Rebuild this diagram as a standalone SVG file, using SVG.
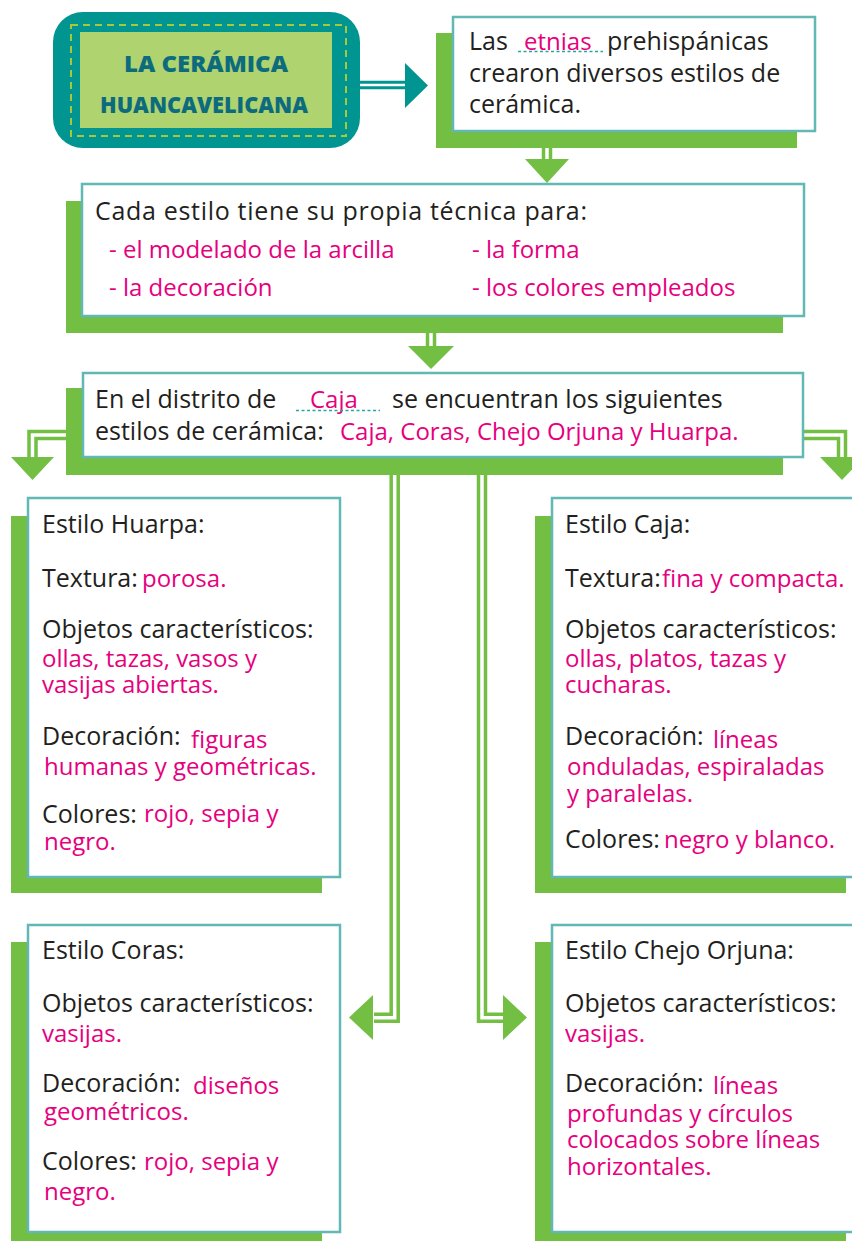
<svg xmlns="http://www.w3.org/2000/svg" width="852" height="1241" viewBox="0 0 852 1241">
<style>
.shadow{fill:#72bf44}
.box{fill:#fff;stroke:#62b8b5;stroke-width:2.5}
.t{font-family:"Open Sans","Liberation Sans",sans-serif;font-size:25px;fill:#231f20}
.p{font-family:"Open Sans","Liberation Sans",sans-serif;font-size:24px;fill:#e6007e}
.title{font-family:"Open Sans","Liberation Sans",sans-serif;font-size:23px;font-weight:800;fill:#0d6b7e}
.gOuter{fill:none;stroke:#72bf44;stroke-width:10.5}
.gInner{fill:none;stroke:#fff;stroke-width:3.5}
.tri{fill:#72bf44}
.dash{fill:none;stroke:#2aa6a0;stroke-width:1.3;stroke-dasharray:3 2.5}
</style>
<rect width="852" height="1241" fill="#fff"/>

<g id="connectors">
  <path d="M360,85 H406" fill="none" stroke="#009590" stroke-width="8.5"/>
  <path d="M360,85 H406" fill="none" stroke="#fff" stroke-width="2.5"/>
  <polygon points="405,63 405,108 428,85.5" fill="#009590"/>

  <path class="gOuter" d="M547,146 V160"/>
  <path class="gInner" d="M547,146 V160"/>
  <polygon class="tri" points="525,159 569,159 547,183"/>

  <path class="gOuter" d="M431,331 V347"/>
  <path class="gInner" d="M431,331 V347"/>
  <polygon class="tri" points="408,346 454,346 431,369"/>

  <path class="gOuter" d="M68,435 H32.5 V458" stroke-width="9"/>
  <path class="gInner" d="M68,435 H32.5 V458"/>
  <polygon class="tri" points="11,457 54,457 32.5,480"/>

  <path class="gOuter" d="M801,435 H842 V458" stroke-width="9"/>
  <path class="gInner" d="M801,435 H842 V458"/>
  <polygon class="tri" points="820,457 864,457 842,480"/>

  <path class="gOuter" d="M394.7,473 V1017.7 H374"/>
  <path class="gInner" d="M394.7,473 V1017.7 H374"/>
  <polygon class="tri" points="373,995 373,1040 349,1017.5"/>

  <path class="gOuter" d="M482,473 V1017.7 H503"/>
  <path class="gInner" d="M482,473 V1017.7 H503"/>
  <polygon class="tri" points="503,995 503,1040 527,1017.5"/>
</g>

<g id="title">
  <rect x="53" y="12" width="307" height="136" rx="30" fill="#009590"/>
  <rect x="80" y="32" width="252" height="96" fill="#afd36e"/>
  <rect x="71" y="25" width="275" height="111" fill="none" stroke="#a8c83c" stroke-width="2" stroke-dasharray="7 5"/>
  <text class="title" x="206" y="72" text-anchor="middle" textLength="164" lengthAdjust="spacingAndGlyphs">LA CERÁMICA</text>
  <text class="title" x="204" y="113" text-anchor="middle" textLength="208" lengthAdjust="spacingAndGlyphs">HUANCAVELICANA</text>
</g>

<g id="box1">
  <rect class="shadow" x="436" y="33" width="361" height="115"/>
  <rect class="box" x="453" y="17" width="362" height="114"/>
  <text class="t" x="469" y="50">Las</text>
  <text class="p" x="524" y="50">etnias</text>
  <path class="dash" d="M518,51.5 H603"/>
  <text class="t" x="607" y="50">prehispánicas</text>
  <text class="t" x="469" y="82">crearon diversos estilos de</text>
  <text class="t" x="469" y="113">cerámica.</text>
</g>

<g id="box2">
  <rect class="shadow" x="66" y="201" width="717" height="132"/>
  <rect class="box" x="82" y="184" width="722" height="132"/>
  <text class="t" x="95" y="220" textLength="492">Cada estilo tiene su propia técnica para:</text>
  <text class="p" x="109" y="258">- el modelado de la arcilla</text>
  <text class="p" x="109" y="296">- la decoración</text>
  <text class="p" x="472" y="258">- la forma</text>
  <text class="p" x="472" y="296">- los colores empleados</text>
</g>

<g id="box3">
  <rect class="shadow" x="66" y="388" width="717" height="87"/>
  <rect class="box" x="83" y="373" width="720" height="84"/>
  <text class="t" x="95" y="408">En el distrito de</text>
  <text class="p" x="310" y="408">Caja</text>
  <path class="dash" d="M296,410.5 H380"/>
  <text class="t" x="392" y="408">se encuentran los siguientes</text>
  <text class="t" x="95" y="440">estilos de cerámica:</text>
  <text class="p" x="340" y="440">Caja, Coras, Chejo Orjuna y Huarpa.</text>
</g>

<g id="huarpa">
  <rect class="shadow" x="11" y="516" width="311" height="377"/>
  <rect class="box" x="28" y="498" width="312" height="379"/>
  <text class="t" x="42" y="533">Estilo Huarpa:</text>
  <text class="t" x="42" y="587">Textura:</text>
  <text class="p" x="142" y="587">porosa.</text>
  <text class="t" x="42" y="638">Objetos característicos:</text>
  <text class="p" x="42" y="667">ollas, tazas, vasos y</text>
  <text class="p" x="42" y="693">vasijas abiertas.</text>
  <text class="t" x="42" y="745">Decoración:</text>
  <text class="p" x="191" y="748">figuras</text>
  <text class="p" x="44" y="775">humanas y geométricas.</text>
  <text class="t" x="42" y="823">Colores:</text>
  <text class="p" x="144" y="822">rojo, sepia y</text>
  <text class="p" x="44" y="850">negro.</text>
</g>

<g id="caja">
  <rect class="shadow" x="535" y="516" width="311" height="377"/>
  <rect class="box" x="552" y="498" width="312" height="379"/>
  <text class="t" x="565" y="533">Estilo Caja:</text>
  <text class="t" x="565" y="587">Textura:</text>
  <text class="p" x="662" y="587">fina y compacta.</text>
  <text class="t" x="565" y="638">Objetos característicos:</text>
  <text class="p" x="565" y="667">ollas, platos, tazas y</text>
  <text class="p" x="565" y="693">cucharas.</text>
  <text class="t" x="565" y="745">Decoración:</text>
  <text class="p" x="713" y="748">líneas</text>
  <text class="p" x="567" y="775">onduladas, espiraladas</text>
  <text class="p" x="567" y="802">y paralelas.</text>
  <text class="t" x="565" y="848">Colores:</text>
  <text class="p" x="664" y="848">negro y blanco.</text>
</g>

<g id="coras">
  <rect class="shadow" x="11" y="942" width="311" height="300"/>
  <rect class="box" x="28" y="925" width="312" height="307"/>
  <text class="t" x="42" y="959">Estilo Coras:</text>
  <text class="t" x="42" y="1012">Objetos característicos:</text>
  <text class="p" x="42" y="1042">vasijas.</text>
  <text class="t" x="42" y="1092">Decoración:</text>
  <text class="p" x="193" y="1094">diseños</text>
  <text class="p" x="44" y="1120">geométricos.</text>
  <text class="t" x="42" y="1170">Colores:</text>
  <text class="p" x="144" y="1170">rojo, sepia y</text>
  <text class="p" x="44" y="1200">negro.</text>
</g>

<g id="chejo">
  <rect class="shadow" x="535" y="942" width="311" height="300"/>
  <rect class="box" x="552" y="925" width="312" height="307"/>
  <text class="t" x="565" y="959">Estilo Chejo Orjuna:</text>
  <text class="t" x="565" y="1012">Objetos característicos:</text>
  <text class="p" x="565" y="1042">vasijas.</text>
  <text class="t" x="565" y="1092">Decoración:</text>
  <text class="p" x="713" y="1094">líneas</text>
  <text class="p" x="567" y="1122">profundas y círculos</text>
  <text class="p" x="567" y="1148">colocados sobre líneas</text>
  <text class="p" x="567" y="1175">horizontales.</text>
</g>
</svg>
